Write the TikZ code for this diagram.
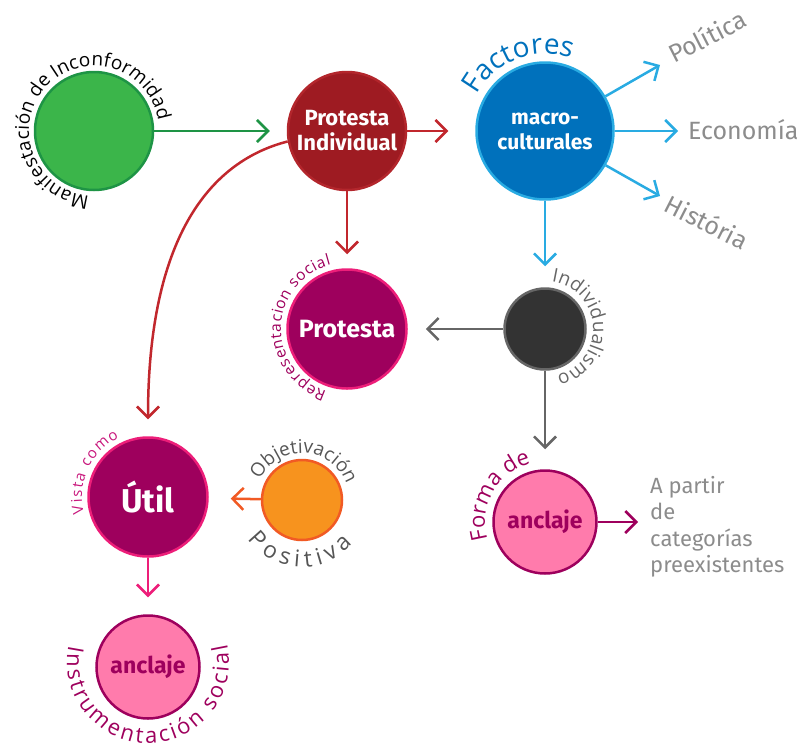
\documentclass[tikz,border=0pt]{standalone}
\usepackage{fontspec}
\setmainfont{Fira Sans}
\newfontfamily\arcfont{Open Sans}
\usetikzlibrary{arrows.meta,decorations.text}
\newcommand\fsz[2]{\fontsize{#1}{#2}\selectfont}
\definecolor{greenF}{HTML}{3BB54A}
\definecolor{greenD}{HTML}{1E9445}
\definecolor{redF}{HTML}{9E1B22}
\definecolor{redB}{HTML}{B3262C}
\definecolor{redA}{HTML}{C1272D}
\definecolor{blueF}{HTML}{0071BC}
\definecolor{blueB}{HTML}{29ABE2}
\definecolor{magF}{HTML}{9E005D}
\definecolor{magB}{HTML}{ED1E79}
\definecolor{vista}{HTML}{C8177C}
\definecolor{darkF}{HTML}{333333}
\definecolor{darkB}{HTML}{666666}
\definecolor{oraF}{HTML}{F7931E}
\definecolor{oraB}{HTML}{F15A24}
\definecolor{pinkF}{HTML}{FF7BAC}
\definecolor{lgray}{HTML}{8C8C8C}
\definecolor{dgray}{HTML}{555555}
\begin{document}
\begin{tikzpicture}[x=1pt,y=1pt,
  circ/.style={circle, line width=2.5pt, inner sep=0pt, align=center},
  arr/.style={line width=2.5pt, -{Straight Barb[length=11pt,width=22pt]}},
  lbl/.style={text=lgray, inner sep=0pt},
  arctext/.style 2 args={decorate, decoration={text along path, text align={fit to path}, text color=#1, text={#2}}}
]
\useasboundingbox (0,0) rectangle (805,-747);

% circles
\node[circ, draw=greenD, fill=greenF, minimum size=118pt] (man) at (94,-131) {};
\node[circ, draw=redB, fill=redF, minimum size=118pt, text=white, font=\bfseries\fsz{22}{25}] (pind) at (347,-131) {Protesta\\Individual};
\node[circ, draw=blueB, fill=blueF, minimum size=137pt, text=white, font=\bfseries\fsz{21}{25}] (mac) at (545,-131) {macro-\\culturales};
\node[circ, draw=magB, fill=magF, minimum size=119pt, text=white, font=\bfseries\fsz{25}{25}] (prot) at (347,-329) {Protesta};
\node[circ, draw=darkB, fill=darkF, minimum size=81pt] (ind) at (545,-329) {};
\node[circ, draw=magB, fill=magF, minimum size=119pt, text=white, font=\bfseries\fsz{33}{33}] (util) at (148,-497) {Útil};
\node[circ, draw=oraB, fill=oraF, minimum size=80pt] (obj) at (302,-500) {};
\node[circ, draw=magF, fill=pinkF, minimum size=103pt, text=magF, font=\bfseries\fsz{23}{23}] (anc1) at (545,-522) {anclaje};
\node[circ, draw=magF, fill=pinkF, minimum size=103pt, text=magF, font=\bfseries\fsz{23}{23}] (anc2) at (148,-667) {anclaje};

% labels
\node[lbl, font=\fsz{25}{25}, rotate=27] (pol) at (707,-36) {Política};
\node[lbl, font=\fsz{25}{25}, anchor=west] (eco) at (688,-130) {Economía};
\node[lbl, font=\fsz{25}{25}, rotate=-27] (his) at (707,-222) {História};
\node[lbl, font=\fsz{22}{26.5}, align=left, anchor=north west] (apar) at (650,-476) {A partir\\de\\categorías\\preexistentes};

\coordinate (polA) at (660,-65);
\coordinate (ecoA) at (678,-131);
\coordinate (hisA) at (660,-196);
\coordinate (aparA) at (638,-522);

% connectors
\draw[arr, greenD, shorten >=17pt] (man) -- (pind);
\draw[arr, redA, shorten >=27pt] (pind) -- (mac);
\draw[arr, redA, shorten >=14pt] (pind) -- (prot);
\draw[arr, redA, shorten >=17pt] (pind.190) .. controls (215,-160) and (148,-230) .. (util.north);
\draw[arr, blueB] (mac) -- (polA);
\draw[arr, blueB] (mac) -- (ecoA);
\draw[arr, blueB] (mac) -- (hisA);
\draw[arr, blueB, shorten >=21pt] (mac) -- (ind);
\draw[arr, darkB, shorten >=18pt] (ind) -- (prot);
\draw[arr, darkB, shorten >=20pt] (ind) -- (anc1);
\draw[arr, oraB, shorten >=22pt] (obj) -- (util);
\draw[arr, magB, shorten >=17pt] (util) -- (anc2);
\draw[arr, magF] (anc1) -- (aparA);

% curved texts
\path[arctext={black}{|\arcfont\fsz{19}{19}|Manifestación de Inconformidad}]
  ([shift={(266:65)}]man.center) arc[start angle=266, end angle=9, radius=65];
\path[arctext={blueF}{|\arcfont\fsz{28}{28}|Factores}]
  ([shift={(152:77)}]mac.center) arc[start angle=152, end angle=70, radius=77];
\path[arctext={magF}{|\arcfont\fsz{15.5}{15.5}|Representacion social}]
  ([shift={(252:66)}]prot.center) arc[start angle=252, end angle=104, radius=66];
\path[arctext={darkB}{|\arcfont\fsz{19}{19}|Individualismo}]
  ([shift={(82:48)}]ind.center) arc[start angle=82, end angle=-76, radius=48];
\path[arctext={vista}{|\arcfont\fsz{15}{15}|Vista como}]
  ([shift={(194:66)}]util.center) arc[start angle=194, end angle=116, radius=66];
\path[arctext={dgray}{|\arcfont\fsz{19}{19}|Objetivación}]
  ([shift={(154:47)}]obj.center) arc[start angle=154, end angle=20, radius=47];
\path[arctext={dgray}{|\arcfont\fsz{23}{23}|Positiva}]
  ([shift={(216:67)}]obj.center) arc[start angle=216, end angle=319, radius=67];
\path[arctext={magF}{|\arcfont\fsz{22}{22}|Forma de}]
  ([shift={(197:60)}]anc1.center) arc[start angle=197, end angle=106, radius=60];
\path[arctext={magF}{|\arcfont\fsz{22}{22}|Instrumentación social}]
  ([shift={(168:81)}]anc2.center) ++(0,5) arc[start angle=168, end angle=373, radius=81];
\end{tikzpicture}
\end{document}
